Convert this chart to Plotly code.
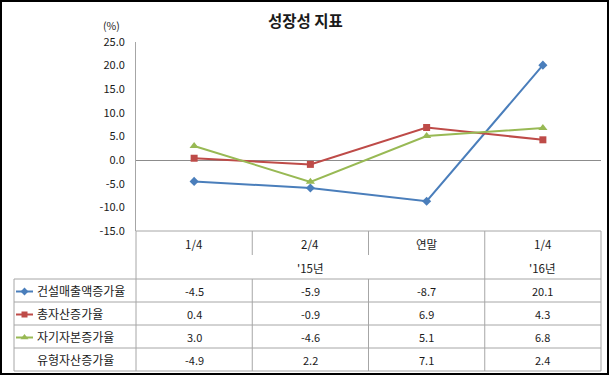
import plotly.graph_objects as go

W, H = 610, 379

categories = ["1/4", "2/4", "연말", "1/4"]
year_labels = ["'15년", "'16년"]
series_names = ["건설매출액증가율", "총자산증가율", "자기자본증가율", "유형자산증가율"]
construction_sales = [-4.5, -5.9, -8.7, 20.1]
total_assets = [0.4, -0.9, 6.9, 4.3]
equity = [3.0, -4.6, 5.1, 6.8]
tangible_assets = [-4.9, 2.2, 7.1, 2.4]
y_ticks = [-15, -10, -5, 0, 5, 10, 15, 20, 25]

all_series = [construction_sales, total_assets, equity, tangible_assets]
colors = ["#4A7EBB", "#BE4B48", "#98B954", None]
symbols = ["diamond", "square", "triangle-up", None]
msizes = [7, 7, 8, None]

FONT = "Noto Sans CJK KR, Noto Sans, sans-serif"
GRID = "#A6A6A6"
TXT = "#1a1a1a"

# plot area in pixels
L, R, T, B = 136, 601, 42, 231


def px(x):
    return x / W


def py(y):
    return 1 - y / H


fig = go.Figure()
xs = list(range(len(categories)))
for name, vals, c, s, ms in zip(series_names, all_series, colors, symbols, msizes):
    if c is None:
        continue
    fig.add_trace(go.Scatter(
        x=xs, y=vals, mode="lines+markers", name=name,
        line=dict(color=c, width=2),
        marker=dict(symbol=s, size=ms, color=c),
        xaxis="x", yaxis="y", hoverinfo="skip", showlegend=False,
    ))

# legend keys inside the table (full-page pixel axes)
row_tops = [279, 302, 325, 348, 371]
for i, (c, s, ms) in enumerate(zip(colors, symbols, msizes)):
    if c is None:
        continue
    yc = (row_tops[i] + row_tops[i + 1]) / 2 + 1
    fig.add_trace(go.Scatter(
        x=[16, 33], y=[yc, yc], mode="lines", line=dict(color=c, width=2),
        xaxis="x2", yaxis="y2", hoverinfo="skip", showlegend=False))
    fig.add_trace(go.Scatter(
        x=[24.5], y=[yc], mode="markers", marker=dict(symbol=s, size=ms - 1, color=c),
        xaxis="x2", yaxis="y2", hoverinfo="skip", showlegend=False))

shapes = []


def hline(x0, x1, y, color=GRID, w=1):
    shapes.append(dict(type="line", xref="paper", yref="paper", x0=px(x0), x1=px(x1),
                       y0=py(y), y1=py(y), line=dict(color=color, width=w)))


def vline(x, y0, y1, color=GRID, w=1):
    shapes.append(dict(type="line", xref="paper", yref="paper", x0=px(x), x1=px(x),
                       y0=py(y0), y1=py(y1), line=dict(color=color, width=w)))


# table lines
hline(L, R, 231)
for y in row_tops:
    hline(14, R, y)
vline(L, 231, 371)
vline(R, 231, 371)
vline(14, 279, 371)
col_edges = [252.25, 368.5, 484.75]
vline(col_edges[0], 231, 255)
vline(col_edges[1], 231, 255)
vline(col_edges[0], 279, 371)
vline(col_edges[1], 279, 371)
vline(col_edges[2], 231, 371)

# outer frame
shapes.append(dict(type="rect", xref="paper", yref="paper", x0=px(1), x1=px(608),
                   y0=py(1), y1=py(374), line=dict(color="#000000", width=2)))

ann = []


def add_text(text, x, y, size, xref="paper", xanchor="center"):
    ann.append(dict(text=text, x=x, y=py(y), xref=xref, yref="paper",
                    xanchor=xanchor, yanchor="middle", showarrow=False,
                    font=dict(size=size, color=TXT, family=FONT)))


add_text("<b>성장성 지표</b>", px(305), 20, 15.5)
add_text("(%)", px(111), 25, 10.5)

for i, cat in enumerate(categories):
    add_text(cat, i, 244, 11.5, xref="x")
add_text(year_labels[0], 1, 268, 11.5, xref="x")
add_text(year_labels[1], 3, 268, 11.5, xref="x")

for r, (name, vals) in enumerate(zip(series_names, all_series)):
    yc = (row_tops[r] + row_tops[r + 1]) / 2
    add_text(name, px(35), yc, 12, xanchor="left")
    for i, v in enumerate(vals):
        add_text(f"{v:.1f}", i, yc, 11, xref="x")

fig.update_layout(
    width=W, height=H, margin=dict(l=0, r=0, t=0, b=0),
    paper_bgcolor="white", plot_bgcolor="rgba(0,0,0,0)",
    shapes=shapes, annotations=ann, showlegend=False,
    xaxis=dict(domain=[px(L), px(R)], range=[-0.5, 3.5], showticklabels=False,
               showgrid=False, zeroline=False, showline=False, ticks="",
               anchor="y"),
    yaxis=dict(domain=[py(B), py(T)], range=[-15, 25], tickvals=y_ticks,
               ticktext=[f"{v:.1f}" for v in y_ticks], showgrid=False,
               zeroline=True, zerolinecolor="#8C8C8C", zerolinewidth=1,
               showline=True, linecolor=GRID, linewidth=1, ticks="",
               ticklabelstandoff=8, anchor="x", automargin=False,
               tickfont=dict(size=11, color=TXT, family=FONT)),
    xaxis2=dict(domain=[0, 1], range=[0, W], visible=False, fixedrange=True,
                anchor="y2"),
    yaxis2=dict(domain=[0, 1], range=[H, 0], visible=False, fixedrange=True,
                anchor="x2"),
)
fig.write_html("out.html")
